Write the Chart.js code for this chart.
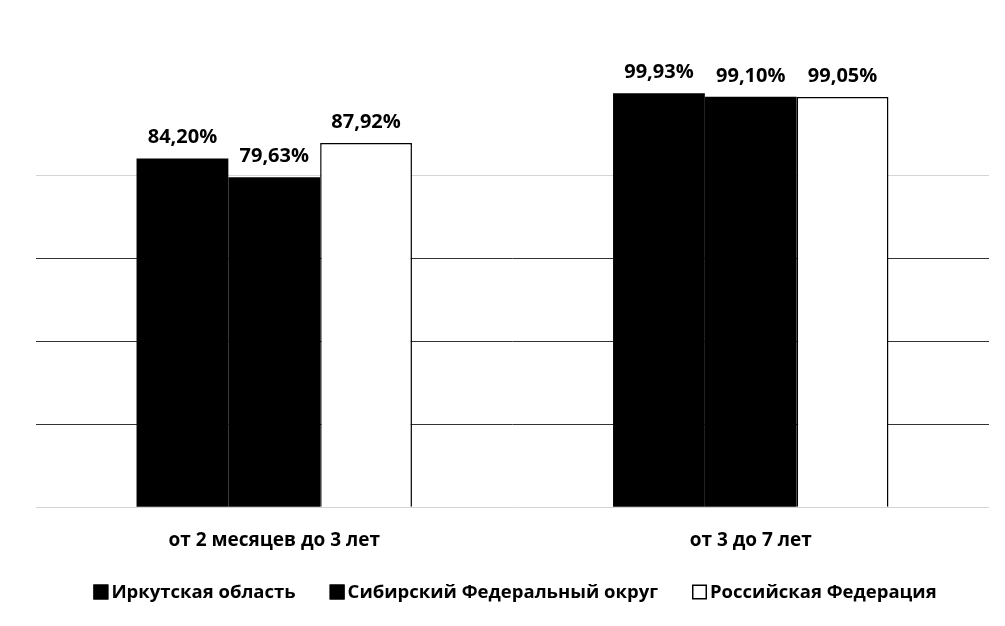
<!DOCTYPE html>
<html>
<head>
<meta charset="utf-8">
<script src="https://cdn.jsdelivr.net/npm/chart.js@4/dist/chart.umd.min.js"></script>
<style>
html,body{margin:0;padding:0;background:#fff;}
#wrap{width:1005px;height:626px;position:relative;}
</style>
</head>
<body>
<div id="wrap"><canvas id="c" width="1005" height="626"></canvas></div>
<script>
const categories = ["от 2 месяцев до 3 лет", "от 3 до 7 лет"];
const seriesNames = ["Иркутская область", "Сибирский Федеральный округ", "Российская Федерация"];
const irkutsk = [84.20, 99.93];
const siberia = [79.63, 99.10];
const russia = [87.92, 99.05];
const yTicks = [0, 20, 40, 60, 80, 100];

const FONT = "'Open Sans', 'DejaVu Sans', sans-serif";

const valueLabels = {
  id: 'valueLabels',
  afterDatasetsDraw(chart) {
    const ctx = chart.ctx;
    ctx.save();
    ctx.font = "bold 20px " + FONT;
    ctx.fillStyle = '#000';
    ctx.textAlign = 'center';
    ctx.textBaseline = 'alphabetic';
    chart.data.datasets.forEach((ds, i) => {
      const meta = chart.getDatasetMeta(i);
      meta.data.forEach((bar, j) => {
        const v = ds.data[j];
        const txt = v.toFixed(2).replace('.', ',') + '%';
        ctx.fillText(txt, bar.x, bar.y - 15);
      });
    });
    ctx.restore();
  }
};

// Legend drawn under the axis, compact like the original (box right next to text)
const compactLegend = {
  id: 'compactLegend',
  afterDraw(chart) {
    const ctx = chart.ctx;
    const box = 15, gap = 3, itemGap = 34, cy = 592;
    ctx.save();
    ctx.font = "bold 18.5px " + FONT;
    ctx.textBaseline = 'middle';
    ctx.textAlign = 'left';
    const items = chart.data.datasets.map(ds => ({
      text: ds.label, fill: ds.backgroundColor, w: ctx.measureText(ds.label).width
    }));
    const total = items.reduce((s, it) => s + box + gap + it.w, 0) + itemGap * (items.length - 1);
    let x = 515 - total / 2;
    items.forEach(it => {
      ctx.fillStyle = it.fill;
      ctx.fillRect(x, cy - box / 2, box, box);
      ctx.strokeStyle = '#000';
      ctx.lineWidth = 1.5;
      ctx.strokeRect(x + 0.75, cy - box / 2 + 0.75, box - 1.5, box - 1.5);
      ctx.fillStyle = '#000';
      ctx.fillText(it.text, x + box + gap, cy + 1);
      x += box + gap + it.w + itemGap;
    });
    ctx.restore();
  }
};

new Chart(document.getElementById('c'), {
  type: 'bar',
  data: {
    labels: categories,
    datasets: [
      { label: seriesNames[0], data: irkutsk, backgroundColor: '#000', borderColor: '#000', borderWidth: 0 },
      { label: seriesNames[1], data: siberia, backgroundColor: '#000', borderColor: '#000', borderWidth: 0 },
      { label: seriesNames[2], data: russia, backgroundColor: '#fff', borderColor: '#000', borderWidth: 1.5 }
    ]
  },
  options: {
    responsive: false,
    animation: false,
    devicePixelRatio: 1,
    layout: { padding: { left: 36, right: 16, top: 93, bottom: 52 } },
    datasets: { bar: { barPercentage: 1, categoryPercentage: 0.578 } },
    scales: {
      x: {
        grid: { display: false, drawTicks: false },
        border: { display: false },
        ticks: { color: '#000', font: { family: FONT, size: 19, weight: 'bold' }, padding: 22 }
      },
      y: {
        min: 0, max: 100,
        afterBuildTicks(axis) { axis.ticks = yTicks.map(v => ({ value: v })); },
        ticks: { display: false },
        border: { display: false },
        grid: {
          drawTicks: false,
          lineWidth: 1,
          color(ctx) {
            const v = ctx.tick && ctx.tick.value;
            if (v === 100) return 'rgba(0,0,0,0)';
            if (v === 80 || v === 0) return '#d4d4d4';
            return '#333';
          }
        }
      }
    },
    plugins: {
      legend: { display: false },
      tooltip: { enabled: false }
    }
  },
  plugins: [valueLabels, compactLegend]
});
</script>
</body>
</html>
